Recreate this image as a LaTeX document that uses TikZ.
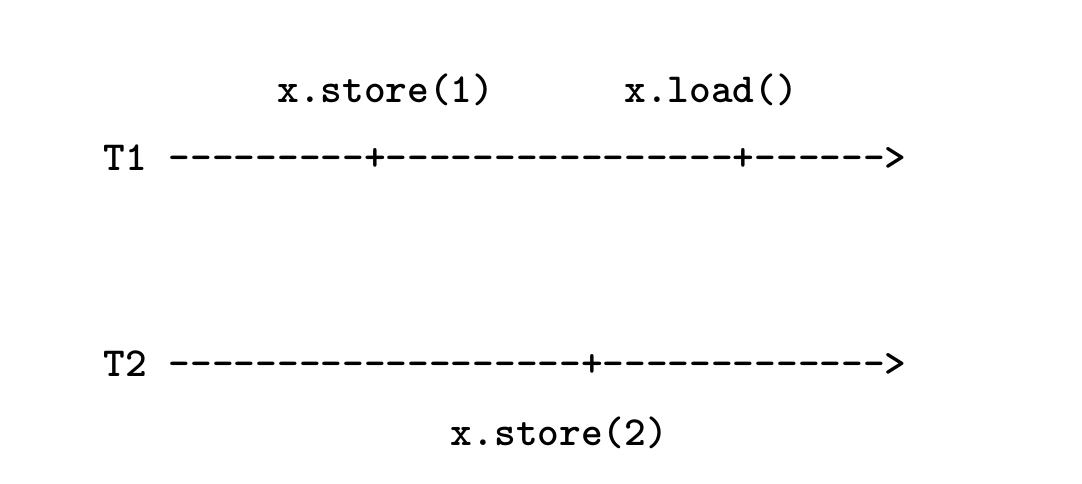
\documentclass[tikz,border=0pt]{standalone}
\usepackage{fontspec}
\newfontfamily\asciifont{lmmonolt10-bold.otf}
\usetikzlibrary{positioning}

\tikzset{
  ascii/.style={font=\asciifont, inner sep=0pt, anchor=base west}
}

\begin{document}
\begin{tikzpicture}
  \useasboundingbox (0,0) rectangle (261.8pt,117.1pt);
  % timelines
  \node[ascii] (t1) at (24.9pt,75.8pt) {T1 ---------+----------------+------>};
  \node[ascii] (t2) at (24.9pt,25.9pt) {T2 -------------------+------------->};
  % operations
  \node[ascii] (store1) at (66.9pt,92.4pt) {x.store(1)};
  \node[ascii] (load1) at (150.9pt,92.4pt) {x.load()};
  \node[ascii] (store2) at (108.9pt,9.3pt) {x.store(2)};
\end{tikzpicture}
\end{document}
